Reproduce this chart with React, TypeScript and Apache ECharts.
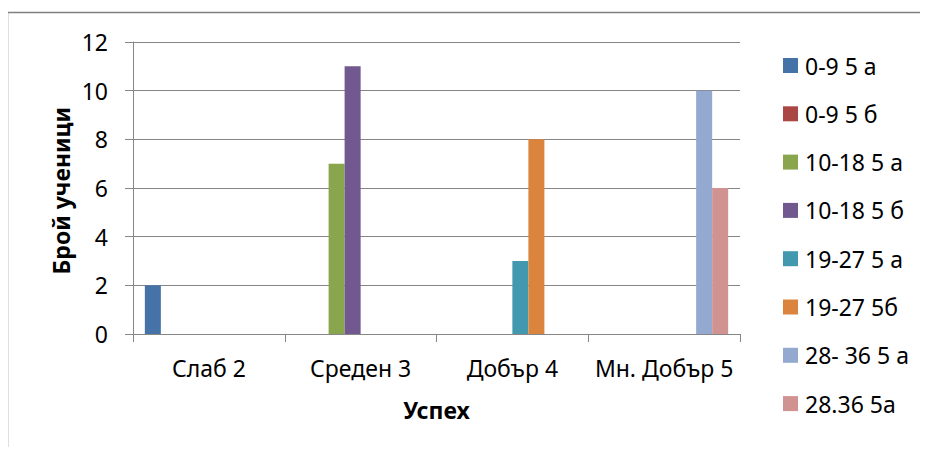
import React, { useEffect, useRef } from "react";
import * as echarts from "echarts";

const categories = ["Слаб 2", "Среден 3", "Добър 4", "Мн. Добър 5"];
const seriesNames = ["0-9 5 а", "0-9 5 б", "10-18 5 а", "10-18 5 б", "19-27 5 а", "19-27 5б", "28- 36 5 а", "28.36 5а"];
const s0 = [2, null, null, null];
const s1 = [null, null, null, null];
const s2 = [null, 7, null, null];
const s3 = [null, 11, null, null];
const s4 = [null, null, 3, null];
const s5 = [null, null, 8, null];
const s6 = [null, null, null, 10];
const s7 = [null, null, null, 6];
const seriesValues = [s0, s1, s2, s3, s4, s5, s6, s7];
const colors = ["#4572A7", "#AA4643", "#89A54E", "#71588F", "#4198AF", "#DB843D", "#93A9CF", "#D19392"];
const yTicks = [0, 2, 4, 6, 8, 10, 12];
const yAxisTitle = "Брой ученици";
const xAxisTitle = "Успех";

const FONT = "Noto Sans";
const FS = 23;

export default function App() {
  const ref = useRef<HTMLDivElement>(null);
  useEffect(() => {
    const chart = echarts.init(ref.current!, null, { renderer: "svg" });
    chart.setOption({
      animation: false,
      backgroundColor: "#ffffff",
      color: colors,
      textStyle: { fontFamily: FONT },
      grid: { left: 133, right: 188, top: 42, bottom: 121, containLabel: false },
      legend: {
        orient: "vertical",
        left: 778,
        top: 49,
        itemWidth: 15,
        itemHeight: 15,
        itemGap: 25.3,
        icon: "rect",
        textStyle: { fontSize: FS, color: "#000", fontFamily: FONT, padding: [0, 0, 0, 2] },
        data: seriesNames,
      },
      xAxis: {
        type: "category",
        data: categories,
        name: xAxisTitle,
        nameLocation: "middle",
        nameGap: 64,
        nameTextStyle: { fontSize: FS, fontWeight: "bold", color: "#000", fontFamily: FONT },
        axisLine: { show: true, lineStyle: { color: "#868686", width: 1 } },
        axisTick: { show: true, length: 8, lineStyle: { color: "#868686" } },
        axisLabel: { fontSize: FS, color: "#000", margin: 22, fontFamily: FONT, interval: 0 },
      },
      yAxis: {
        type: "value",
        min: 0,
        max: yTicks[yTicks.length - 1],
        interval: 2,
        axisLine: { show: true, lineStyle: { color: "#868686", width: 1 } },
        axisTick: { show: true, length: 8, lineStyle: { color: "#868686" } },
        axisLabel: { fontSize: FS, color: "#000", margin: 25, fontFamily: FONT },
        splitLine: { show: true, lineStyle: { color: "#868686", width: 1 } },
      },
      series: seriesNames.map((name, i) => ({
        name,
        type: "bar",
        data: seriesValues[i],
        barGap: "0%",
        barCategoryGap: "15.6%",
        itemStyle: { color: colors[i] },
      })),
      graphic: [
        { type: "line", z: 100, shape: { x1: 5, y1: 12.5, x2: 928, y2: 12.5 }, style: { stroke: "#7f7f7f", lineWidth: 1.5 } },
        { type: "line", z: 100, shape: { x1: 7.5, y1: 12, x2: 7.5, y2: 455 }, style: { stroke: "#7f7f7f", lineWidth: 1.5 } },
        {
          type: "text",
          left: 49,
          top: 107,
          rotation: Math.PI / 2,
          style: {
            text: yAxisTitle,
            fontSize: FS,
            fontWeight: "bold",
            fontFamily: FONT,
            fill: "#000",
          },
        },
      ],
    });
    return () => chart.dispose();
  }, []);
  return <div ref={ref} style={{ width: 928, height: 455, margin: -8 }} />;
}
